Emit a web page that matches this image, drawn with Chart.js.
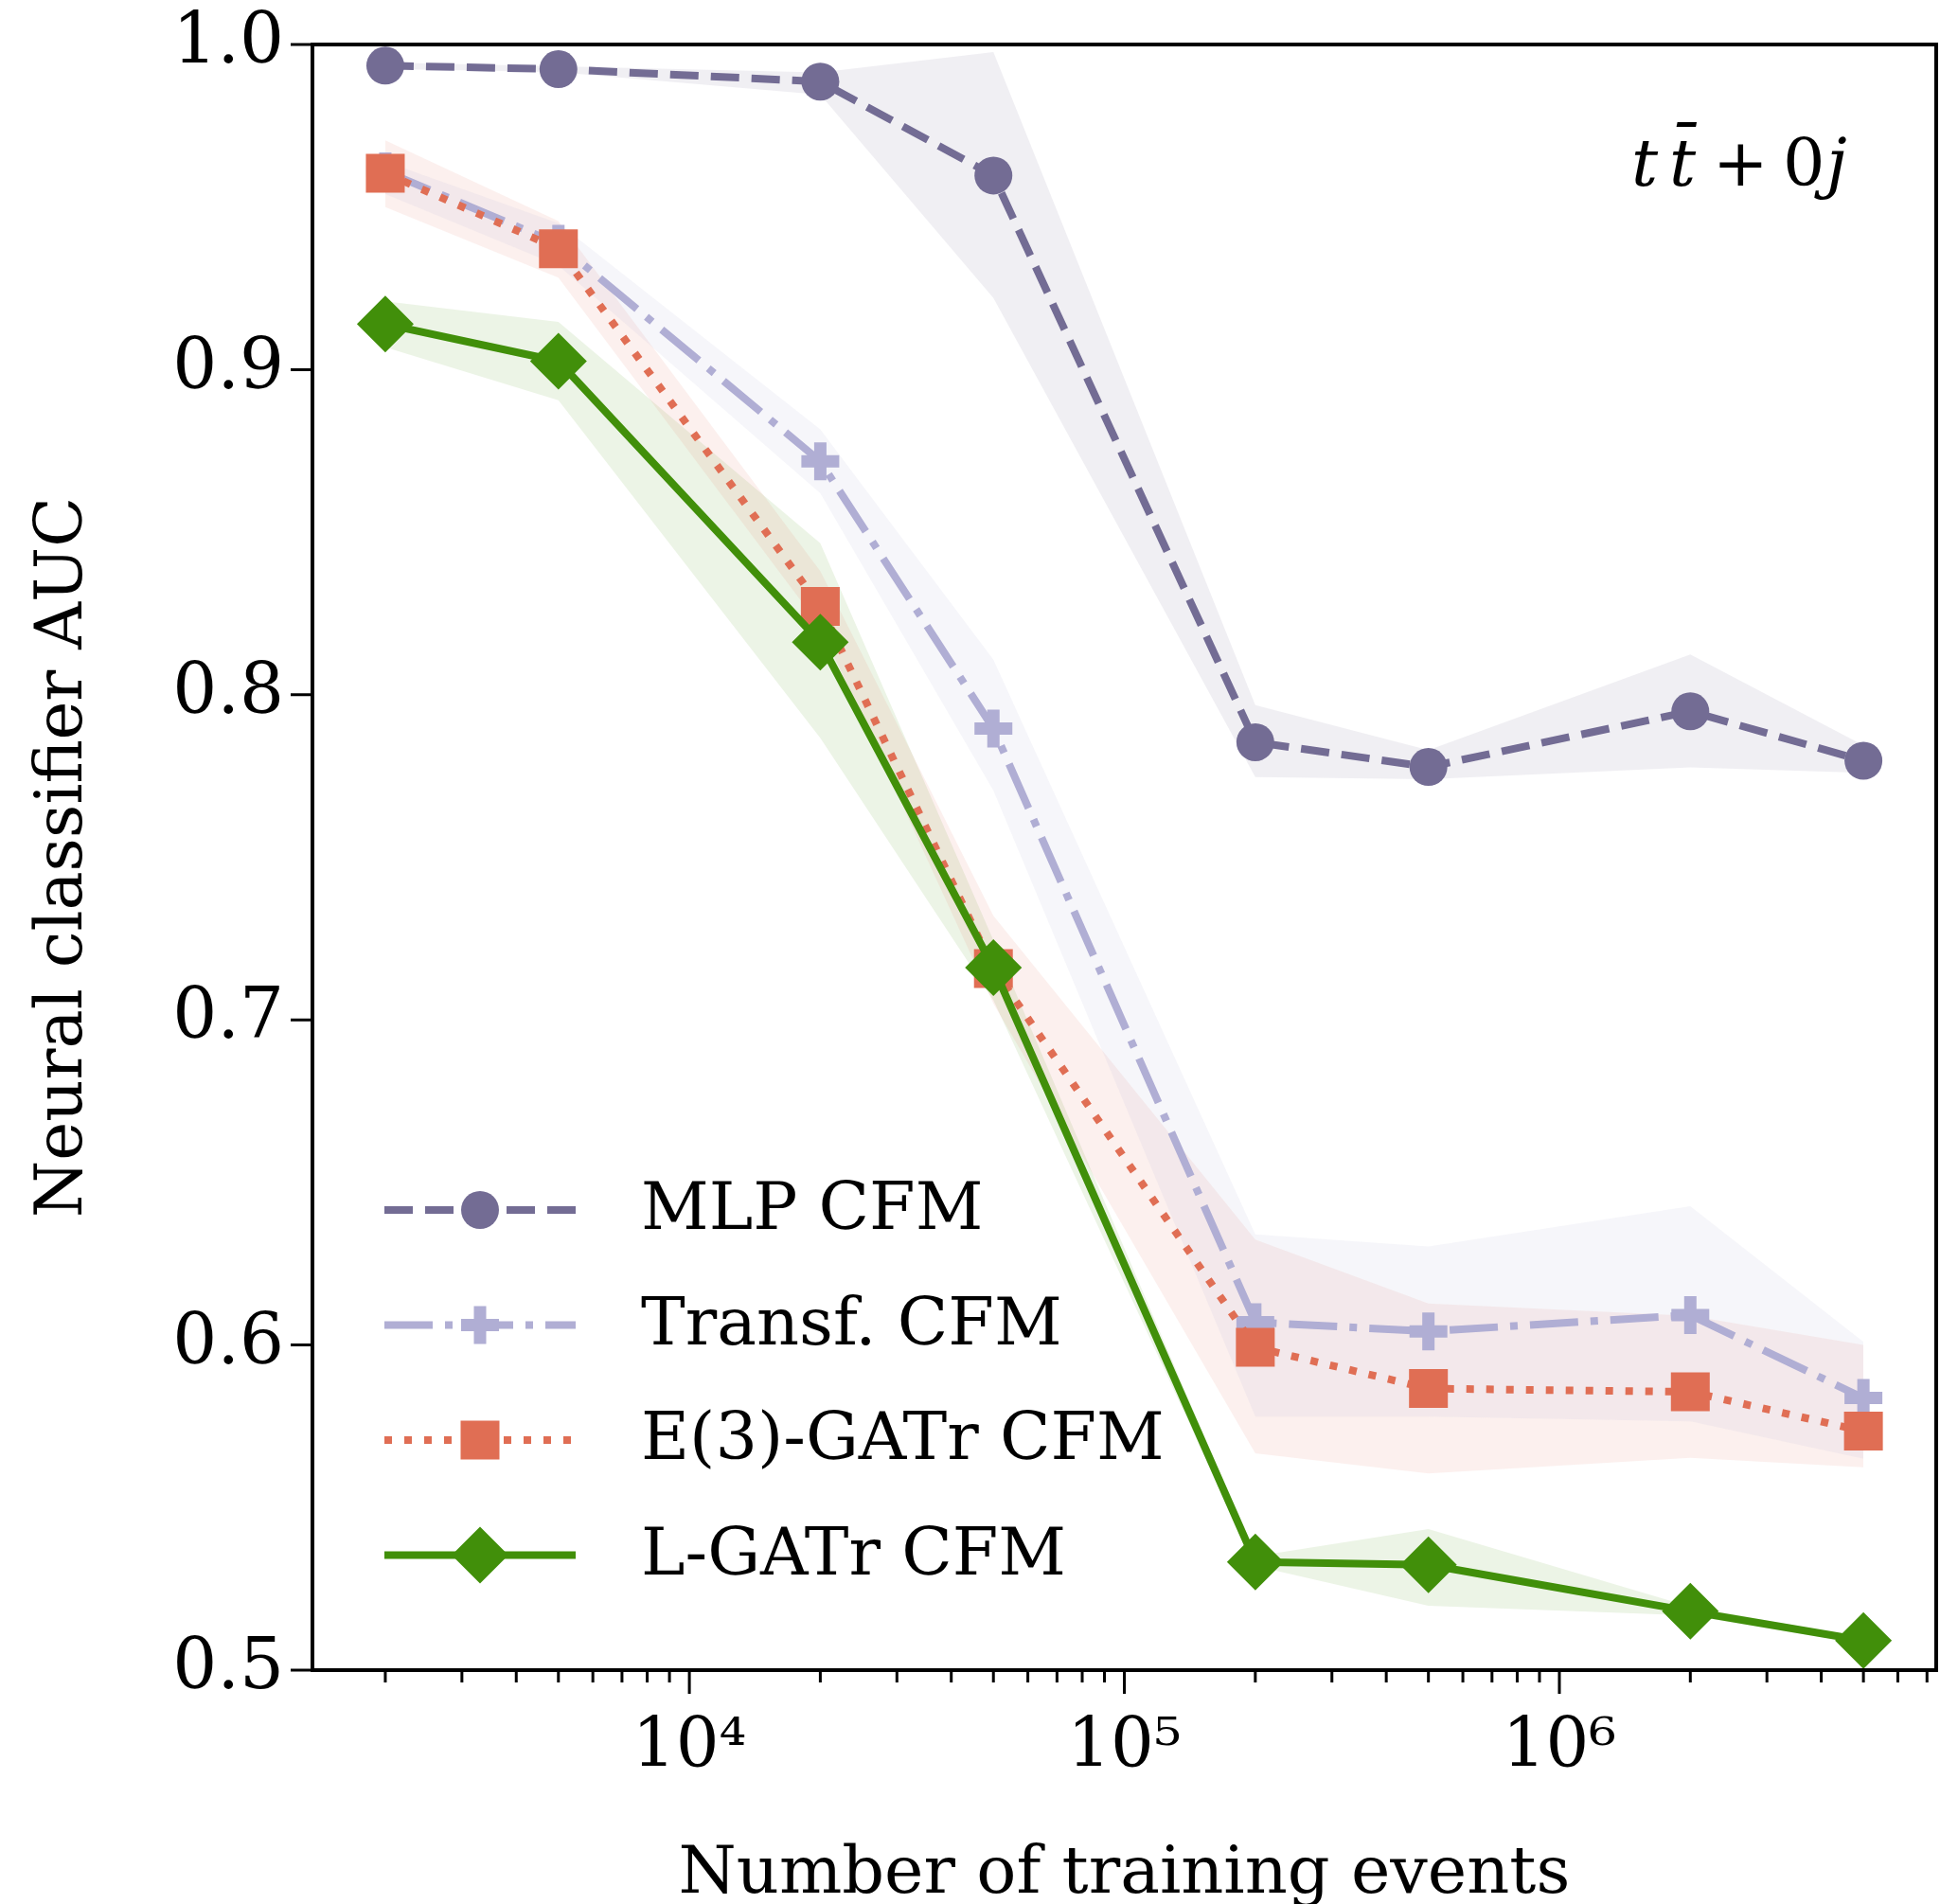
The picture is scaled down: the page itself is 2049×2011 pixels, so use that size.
<!DOCTYPE html>
<html>
<head>
<meta charset="utf-8">
<script src="https://cdn.jsdelivr.net/npm/chart.js@4.4.1/dist/chart.umd.min.js"></script>
<style>
  html, body { margin: 0; padding: 0; background: #fff; }
  #chart { display: block; }
</style>
</head>
<body>
<canvas id="chart" width="2049" height="2011"></canvas>
<script>
// number of training events (x)
const events = [2e3, 5e3, 2e4, 5e4, 2e5, 5e5, 2e6, 5e6];

// MLP CFM
const mlpAuc  = [0.9935, 0.9924, 0.9886, 0.9597, 0.7854, 0.7778, 0.7949, 0.7797];
const mlpLow  = [0.9925, 0.9915, 0.9846, 0.9220, 0.7747, 0.7740, 0.7777, 0.7760];
const mlpHigh = [0.9945, 0.9933, 0.9914, 0.9977, 0.7968, 0.7830, 0.8124, 0.7844];

// Transformer CFM
const trfAuc  = [0.9610, 0.9387, 0.8718, 0.7896, 0.6070, 0.6042, 0.6092, 0.5837];
const trfLow  = [0.9540, 0.9320, 0.8620, 0.7705, 0.5780, 0.5780, 0.5765, 0.5650];
const trfHigh = [0.9640, 0.9450, 0.8816, 0.8108, 0.6340, 0.6303, 0.6427, 0.6010];

// E(3)-GATr CFM
const e3Auc  = [0.9604, 0.9372, 0.8272, 0.7158, 0.5993, 0.5866, 0.5856, 0.5735];
const e3Low  = [0.9500, 0.9283, 0.8210, 0.7050, 0.5667, 0.5605, 0.5653, 0.5624];
const e3High = [0.9705, 0.9457, 0.8380, 0.7320, 0.6324, 0.6128, 0.6090, 0.6000];

// L-GATr CFM
const lgAuc  = [0.9140, 0.9026, 0.8162, 0.7161, 0.5333, 0.5324, 0.5181, 0.5091];
const lgLow  = [0.9069, 0.8906, 0.7867, 0.7060, 0.5320, 0.5198, 0.5168, 0.5080];
const lgHigh = [0.9210, 0.9147, 0.8466, 0.7245, 0.5350, 0.5434, 0.5195, 0.5100];

const labels = ['MLP CFM', 'Transf. CFM', 'E(3)-GATr CFM', 'L-GATr CFM'];
const yTicks = [0.5, 0.6, 0.7, 0.8, 0.9, 1.0];

const FONT = "'DejaVu Serif', 'Liberation Serif', serif";

const series = [
  { label: labels[0], auc: mlpAuc, low: mlpLow, high: mlpHigh, color: '#736c94', band: 'rgba(115,108,148,0.11)',
    dash: [30, 13], pointStyle: 'circle', radius: 20, pw: 0, order: 4 },
  { label: labels[1], auc: trfAuc, low: trfLow, high: trfHigh, color: '#b0aed4', band: 'rgba(176,174,212,0.11)',
    dash: [51, 13, 8, 13], pointStyle: 'cross', radius: 20, pw: 13, order: 3 },
  { label: labels[2], auc: e3Auc, low: e3Low, high: e3High, color: '#e06e54', band: 'rgba(224,110,84,0.10)',
    dash: [8, 13], pointStyle: 'rect', radius: 29, pw: 0, order: 2 },
  { label: labels[3], auc: lgAuc, low: lgLow, high: lgHigh, color: '#418f0a', band: 'rgba(65,143,10,0.10)',
    dash: [], pointStyle: 'rectRot', radius: 30, pw: 0, order: 1 }
];

const pts = arr => arr.map((v, i) => ({ x: events[i], y: v }));

const datasets = [];
// bands first: lower edge, then upper edge filled down to it
series.forEach(s => {
  datasets.push({ data: pts(s.low), borderWidth: 0, borderColor: 'rgba(0,0,0,0)', pointRadius: 0, fill: false, order: 10 });
  datasets.push({ data: pts(s.high), borderWidth: 0, borderColor: 'rgba(0,0,0,0)', pointRadius: 0, fill: '-1',
    backgroundColor: s.band, order: 10 });
});
series.forEach(s => {
  datasets.push({
    label: s.label, data: pts(s.auc), borderColor: s.color, borderWidth: 8, borderDash: s.dash,
    borderCapStyle: 'butt', borderJoinStyle: 'round', fill: false, tension: 0,
    pointStyle: s.pointStyle, pointRadius: s.radius, pointBackgroundColor: s.color,
    pointBorderColor: s.color, pointBorderWidth: s.pw, order: s.order
  });
});

const isPow10 = v => Math.abs(Math.log10(v) - Math.round(Math.log10(v))) < 1e-9;
const sup = { '3': '³', '4': '⁴', '5': '⁵', '6': '⁶', '7': '⁷' };

// no extra room for overhanging tick labels, the layout padding sets the frame
function noScalePadding(scale) {
  scale.paddingLeft = 0;
  scale.paddingRight = 0;
  scale.paddingTop = 0;
  scale.paddingBottom = 0;
}

// frame and tick marks (minor ticks shorter than decades)
const frameAndTicks = {
  id: 'frameAndTicks',
  afterDraw(chart) {
    const { ctx, chartArea: a, scales: { x, y } } = chart;
    ctx.save();
    ctx.strokeStyle = '#000';
    ctx.lineWidth = 3;
    ctx.beginPath();
    x.ticks.forEach(t => {
      const px = x.getPixelForValue(t.value);
      ctx.moveTo(px, a.bottom);
      ctx.lineTo(px, a.bottom + (isPow10(t.value) ? 25 : 13));
    });
    y.ticks.forEach(t => {
      const py = y.getPixelForValue(t.value);
      ctx.moveTo(a.left, py);
      ctx.lineTo(a.left - 23, py);
    });
    ctx.stroke();
    ctx.lineWidth = 4;
    ctx.strokeRect(a.left, a.top, a.right - a.left, a.bottom - a.top);
    ctx.restore();
  }
};

// legend with dashed samples + markers, and the process label
const legendAndNote = {
  id: 'legendAndNote',
  afterDraw(chart) {
    const { ctx, chartArea: a } = chart;
    const drawPoint = Chart.helpers && Chart.helpers.drawPoint;
    ctx.save();
    const x0 = a.left + 76, x1 = a.left + 278, xm = a.left + 177, xt = a.left + 347;
    series.forEach((s, i) => {
      const yy = 1278 + i * 121.5;
      ctx.strokeStyle = s.color;
      ctx.lineWidth = 8;
      ctx.lineCap = 'butt';
      ctx.setLineDash(s.dash);
      ctx.beginPath();
      ctx.moveTo(x0, yy);
      ctx.lineTo(x1, yy);
      ctx.stroke();
      ctx.setLineDash([]);
      ctx.fillStyle = s.color;
      ctx.strokeStyle = s.color;
      ctx.lineWidth = s.pw;
      if (drawPoint) {
        drawPoint(ctx, { pointStyle: s.pointStyle, radius: s.radius, rotation: 0, borderWidth: s.pw }, xm, yy);
      }
      ctx.fillStyle = '#000';
      ctx.font = '70px ' + FONT;
      ctx.textBaseline = 'middle';
      ctx.textAlign = 'left';
      ctx.fillText(s.label, xt, yy + 2);
    });

    // t tbar + 0j
    ctx.fillStyle = '#000';
    ctx.textBaseline = 'alphabetic';
    ctx.textAlign = 'left';
    const tx = a.right - 322;
    const by = 196;
    ctx.font = 'italic 70px ' + FONT;
    ctx.fillText('t', tx, by);
    ctx.fillText('t\u0304', tx + 40, by);
    ctx.font = '70px ' + FONT;
    ctx.fillText('+', tx + 86, by);
    ctx.fillText('0', tx + 160, by);
    ctx.font = 'italic 70px ' + FONT;
    ctx.fillText('j', tx + 206, by);
    ctx.restore();
  }
};

new Chart(document.getElementById('chart').getContext('2d'), {
  type: 'line',
  data: { datasets },
  options: {
    responsive: false,
    animation: false,
    devicePixelRatio: 1,
    layout: { autoPadding: false, padding: { top: 47, right: 4, left: 0, bottom: 0 } },
    plugins: {
      legend: { display: false },
      tooltip: { enabled: false },
      filler: { drawTime: 'beforeDatasetsDraw' }
    },
    scales: {
      x: {
        type: 'logarithmic',
        min: 1360,
        max: 7.35e6,
        grid: { display: false, drawTicks: false },
        border: { display: false },
        afterBuildTicks(scale) {
          const t = [];
          for (let d = 1e3; d <= 1e6; d *= 10) {
            for (let m = 1; m <= 9; m++) {
              const v = m * d;
              if (v >= 1360 && v <= 7.35e6) t.push({ value: v });
            }
          }
          scale.ticks = t;
        },
        afterFit(scale) { scale.height = 247; noScalePadding(scale); },
        ticks: {
          autoSkip: false,
          maxRotation: 0,
          padding: 40,
          color: '#000',
          font: { family: FONT, size: 72 },
          callback: v => isPow10(v) ? '10' + (sup[String(Math.round(Math.log10(v)))] || '') : ''
        },
        title: {
          display: true,
          text: 'Number of training events',
          color: '#000',
          font: { family: FONT, size: 70 },
          padding: { top: 0, bottom: -12 }
        }
      },
      y: {
        min: 0.5,
        max: 1.0,
        grid: { display: false, drawTicks: false },
        border: { display: false },
        afterBuildTicks(scale) { scale.ticks = yTicks.map(v => ({ value: v })); },
        afterFit(scale) { scale.width = 330; noScalePadding(scale); },
        ticks: {
          padding: 30,
          color: '#000',
          font: { family: FONT, size: 74 },
          callback: v => v.toFixed(1)
        },
        title: {
          display: true,
          text: 'Neural classifier AUC',
          color: '#000',
          font: { family: FONT, size: 69 },
          padding: { top: 27, bottom: 0 }
        }
      }
    }
  },
  plugins: [frameAndTicks, legendAndNote]
});
</script>
</body>
</html>
